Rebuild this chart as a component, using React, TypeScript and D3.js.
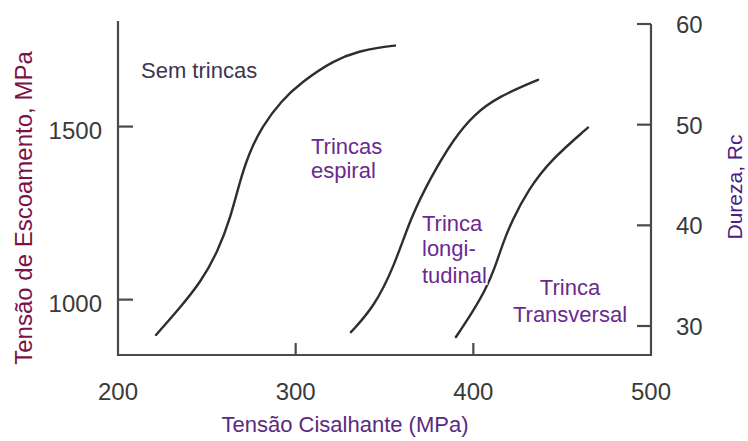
import React from "react";
import * as d3 from "d3";

// tick values
const xTicks = [200, 300, 400, 500];
const yTicks = [1000, 1500];
const hardTicks = [30, 40, 50, 60];

// boundary curves [shear stress MPa, yield stress MPa]
const semTrincas: [number, number][] = [
  [221.4, 898], [233.8, 970], [246.7, 1051], [256.3, 1140], [263.5, 1240],
  [268.5, 1340], [273.5, 1420], [281, 1500], [292, 1575], [303, 1627],
  [321.6, 1693], [336.8, 1719], [346.3, 1728], [355.9, 1734],
];
const espiral: [number, number][] = [
  [331.1, 906], [344.1, 979], [355.3, 1094], [364.9, 1239], [376.2, 1355],
  [389, 1465], [400.4, 1535], [413.9, 1586], [436.4, 1635],
];
const longitudinal: [number, number][] = [
  [390.2, 892], [399.2, 961], [407, 1030], [412, 1090], [416.7, 1164],
  [421.5, 1225], [430.8, 1317], [443.7, 1404], [464.5, 1497],
];

const FONT = "'Liberation Sans', Arial, sans-serif";

const App = () => {
  const width = 748;
  const height = 441;

  const x = d3.scaleLinear().domain([200, 500]).range([118, 651]);
  const y = d3.scaleLinear().domain([840, 1805]).range([355, 21]);
  const yHard = d3.scaleLinear().domain([30, 60]).range([326, 24]);

  const line = d3
    .line<[number, number]>()
    .x((d) => x(d[0]))
    .y((d) => y(d[1]))
    .curve(d3.curveBasis);

  const [x0, x1] = x.range();
  const yBottom = y.range()[0];
  const yTop = y.range()[1];
  const hardTop = yHard(60);

  const axisColor = "#4a4a4a";
  const tickText = "#3a3a3a";
  const labelColor = "#6a2a90";

  return (
    <svg
      width={width}
      height={height}
      style={{ position: "absolute", left: 0, top: 0, background: "#fff" }}
      fontFamily={FONT}
    >
      {/* curves */}
      <g fill="none" stroke="#2e2e2e" strokeWidth={2.4} strokeLinecap="round">
        {[semTrincas, espiral, longitudinal].map((c, i) => (
          <path key={i} d={line(c) || ""} />
        ))}
      </g>

      {/* frame */}
      <g stroke={axisColor} strokeWidth={2.2} fill="none">
        <path d={`M${x0},${yTop}V${yBottom}H${x1}V${hardTop}`} />
        {xTicks.slice(1, -1).map((t) => (
          <line key={t} x1={x(t)} x2={x(t)} y1={yBottom} y2={yBottom - 12} />
        ))}
        {yTicks.map((t) => (
          <line key={t} x1={x0} x2={x0 + 15} y1={y(t)} y2={y(t)} />
        ))}
        {hardTicks.map((t) => (
          <line key={t} x1={x1} x2={x1 - 14} y1={yHard(t)} y2={yHard(t)} />
        ))}
      </g>

      {/* tick labels */}
      <g fill={tickText} fontSize={24}>
        {xTicks.map((t) => (
          <text key={t} x={x(t)} y={400} textAnchor="middle">
            {t}
          </text>
        ))}
        {yTicks.map((t) => (
          <text key={t} x={102} y={y(t) + 12} textAnchor="end">
            {t}
          </text>
        ))}
        {hardTicks.map((t) => (
          <text key={t} x={676} y={yHard(t) + 9}>
            {t}
          </text>
        ))}
      </g>

      {/* axis titles */}
      <text
        transform="translate(32,208) rotate(-90)"
        textAnchor="middle"
        fontSize={24}
        fill="#7a1245"
      >
        Tensão de Escoamento, MPa
      </text>
      <text x={345} y={432} textAnchor="middle" fontSize={22} fill="#5a2a80">
        Tensão Cisalhante (MPa)
      </text>
      <text
        transform="translate(742,187) rotate(-90)"
        textAnchor="middle"
        fontSize={21}
        fill="#4a2088"
      >
        Dureza, Rc
      </text>

      {/* region labels */}
      <g fontSize={22}>
        <text x={141} y={78} fill="#3e3450">
          Sem trincas
        </text>
        <text x={311} y={154} fill={labelColor}>
          <tspan x={311}>Trincas</tspan>
          <tspan x={311} dy={24}>espiral</tspan>
        </text>
        <text
          x={422}
          y={231}
          fill={labelColor}
          stroke="#fff"
          strokeWidth={4}
          style={{ paintOrder: "stroke" }}
        >
          <tspan x={422}>Trinca</tspan>
          <tspan x={422} dy={25}>longi-</tspan>
          <tspan x={422} dy={27}>tudinal</tspan>
        </text>
        <text x={570} y={295} fill={labelColor} textAnchor="middle">
          <tspan x={570}>Trinca</tspan>
          <tspan x={570} dy={27}>Transversal</tspan>
        </text>
      </g>
    </svg>
  );
};

export default App;
